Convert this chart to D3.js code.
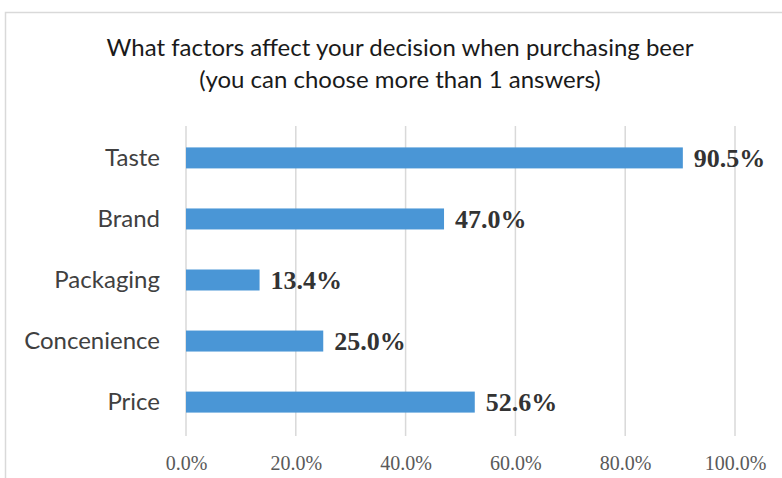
<!DOCTYPE html>
<html><head><meta charset="utf-8">
<script src="https://cdn.jsdelivr.net/npm/d3@7"></script>
<style>body{margin:0;background:#fff}svg{display:block}</style>
</head><body>
<script>
const categories = ["Taste","Brand","Packaging","Concenience","Price"];
const values = [90.5, 47.0, 13.4, 25.0, 52.6];
const ticks = [0,20,40,60,80,100];
const titleLines = ["What factors affect your decision when purchasing beer","(you can choose more than 1 answers)"];

const W=782,H=478;
const svg=d3.select("body").append("svg").attr("width",W).attr("height",H);
svg.append("rect").attr("x",5.5).attr("y",12.5).attr("width",W+10).attr("height",H+10)
  .attr("fill","#fff").attr("stroke","#d9d9d9").attr("stroke-width",1.5);

const x=d3.scaleLinear().domain([0,100]).range([186,735]);
const y=d3.scaleBand().domain(categories).range([128,432]).paddingInner(0.656).paddingOuter(0.318);

const sans='Lato,"DejaVu Sans Condensed",Arial,sans-serif';
const serif='"Liberation Serif","Times New Roman",serif';

svg.selectAll("text.title").data(titleLines).join("text").attr("class","title")
  .attr("x",400).attr("y",(d,i)=>56+i*32).attr("text-anchor","middle")
  .attr("font-family",sans).attr("font-size",24).attr("fill","#1a1a1a").text(d=>d);

// gridlines
svg.append("g").selectAll("line").data(ticks).join("line")
  .attr("x1",d=>x(d)).attr("x2",d=>x(d)).attr("y1",126).attr("y2",436)
  .attr("stroke","#d9d9d9").attr("stroke-width",1.5);

// x axis labels
const xa=svg.append("g").attr("transform","translate(0,467)")
  .call(d3.axisBottom(x).tickValues(ticks).tickSize(0).tickFormat(d=>d.toFixed(1)+"%"));
xa.select(".domain").remove();
xa.selectAll("text").attr("font-family",serif).attr("font-size",20).attr("fill","#595959").attr("dy",0);

// y axis labels
const ya=svg.append("g").attr("transform","translate(160,0)")
  .call(d3.axisLeft(y).tickSize(0));
ya.select(".domain").remove();
ya.selectAll("text").attr("font-family",sans).attr("font-size",24).attr("fill","#404040").attr("x",0).attr("dy","0.33em");

const data=categories.map((c,i)=>({c,v:values[i]}));
svg.append("g").selectAll("rect").data(data).join("rect")
  .attr("x",x(0)).attr("y",d=>y(d.c)).attr("width",d=>x(d.v)-x(0)).attr("height",y.bandwidth())
  .attr("fill","#4a96d6");

svg.append("g").selectAll("text").data(data).join("text")
  .attr("x",d=>x(d.v)+11).attr("y",d=>y(d.c)+y.bandwidth()/2).attr("dy","0.36em")
  .attr("font-family",serif).attr("font-weight","bold").attr("font-size",26).attr("fill","#333")
  .text(d=>d.v.toFixed(1)+"%");
</script>
</body></html>
